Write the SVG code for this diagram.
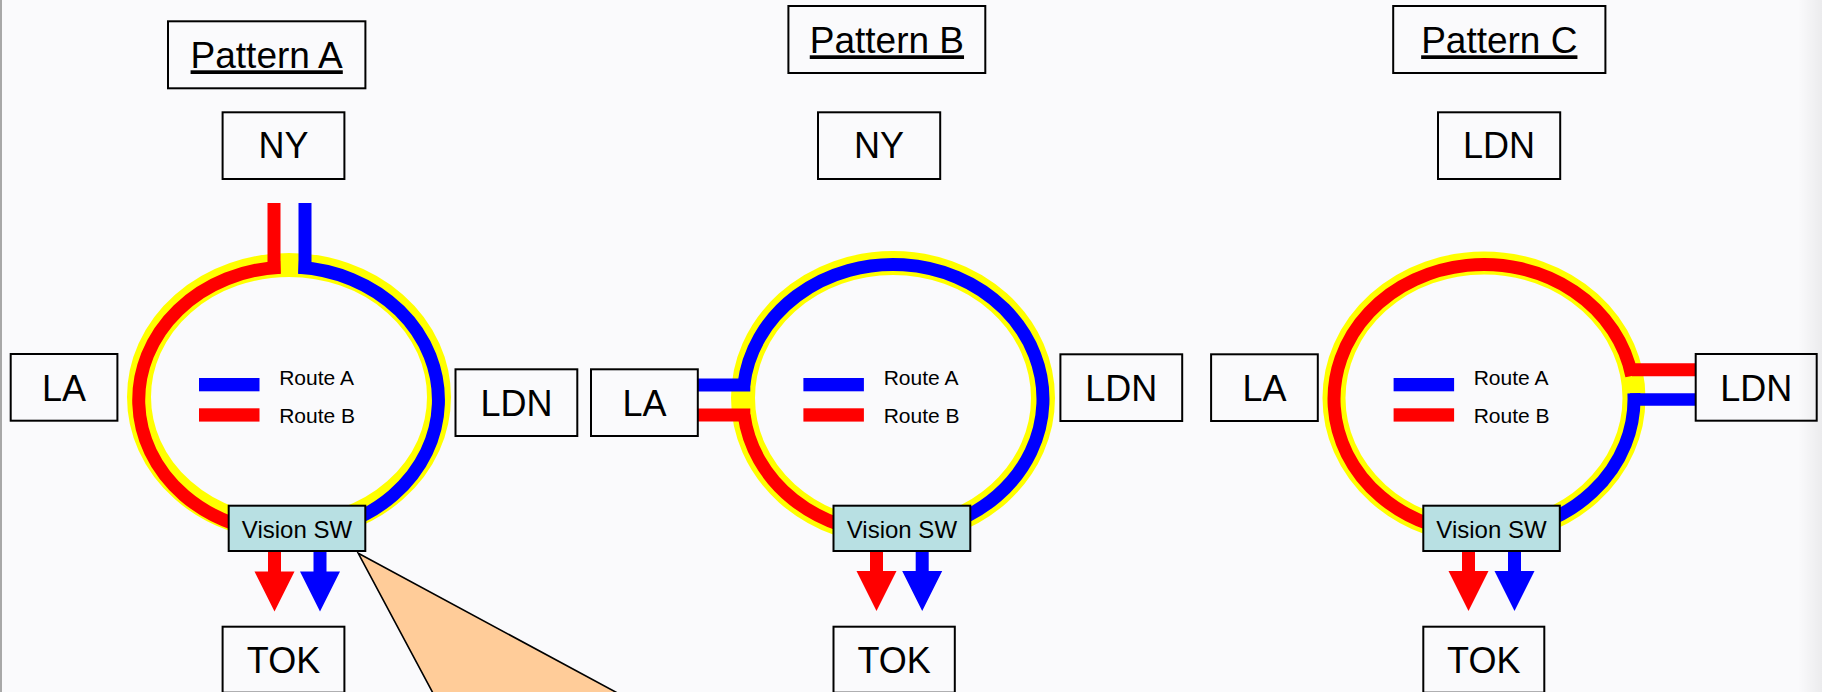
<svg xmlns="http://www.w3.org/2000/svg" width="1822" height="692" viewBox="0 0 1822 692">
<defs>
<linearGradient id="edge" x1="0" y1="0" x2="1" y2="0">
<stop offset="0" stop-color="#000" stop-opacity="0"/>
<stop offset="1" stop-color="#000" stop-opacity="0.06"/>
</linearGradient>
<style>
.box{fill:none;stroke:#000;stroke-width:2}
.t{font-family:"Liberation Sans",Arial,sans-serif;font-size:36px;text-anchor:middle;fill:#000}
.title{font-size:37px;text-decoration:underline}
.leg{font-size:21px;text-anchor:start}
.vsw{fill:#b8e0e3;stroke:#000;stroke-width:2}
.vt{font-size:24px}
.yel{fill:none;stroke:#ffff00;stroke-width:24}
.red{fill:none;stroke:#ff0000;stroke-width:13}
.blue{fill:none;stroke:#0000ff;stroke-width:13}
.rf{fill:#ff0000}
.bf{fill:#0000ff}
.call{fill:#ffcc99;stroke:#000;stroke-width:1.6}
</style>
</defs>
<rect width="1822" height="692" fill="#fafafc"/>
<rect x="1798" y="0" width="24" height="692" fill="url(#edge)"/>
<rect x="0" y="0" width="2" height="692" fill="#a8a8a8"/>

<g id="connectors">
<!-- Pattern A -->
<ellipse class="yel" cx="289" cy="397" rx="150" ry="132"/>
<path class="red" d="M 280.5 267.2 A 150 133 0 0 0 289 533"/>
<path class="blue" d="M 298.5 267.3 A 150 133 0 0 1 289 533"/>
<path class="red" d="M 274 203 V 273.8"/>
<path class="blue" d="M 305 203 V 273.8"/>
<polygon class="rf" points="268,550 281,550 281,571.5 294.5,571.5 274.5,611.5 254.5,571.5 268,571.5"/>
<polygon class="bf" points="313.5,550 326.5,550 326.5,571.5 340,571.5 320,611.5 300,571.5 313.5,571.5"/>
<!-- Pattern B -->
<ellipse class="yel" cx="893" cy="398" rx="150" ry="135"/>
<path class="blue" d="M 743.8 385 A 150 134.5 0 1 1 893 533.5"/>
<path class="red" d="M 744.1 415 A 150 134.5 0 0 0 893 533.5"/>
<path class="blue" d="M 698 385 H 750.3"/>
<path class="red" d="M 698 415 H 750.3"/>
<polygon class="rf" points="870,550 883,550 883,571 896.5,571 876.5,611 856.5,571 870,571"/>
<polygon class="bf" points="915.7,550 928.7,550 928.7,571 942.2,571 922.2,611 902.2,571 915.7,571"/>
<!-- Pattern C -->
<ellipse class="yel" cx="1484" cy="398" rx="150" ry="135" style="stroke-width:23"/>
<path class="red" d="M 1631.8 376 A 150 134.5 0 1 0 1484 533.5"/>
<path class="blue" d="M 1633.9 393.3 A 150 134.5 0 0 1 1484 533.5"/>
<path class="red" d="M 1632 369.7 H 1696"/>
<path class="blue" d="M 1630 399.5 H 1696" style="stroke-width:12.5"/>
<polygon class="rf" points="1462,550 1475,550 1475,571 1488.5,571 1468.5,611 1448.5,571 1462,571"/>
<polygon class="bf" points="1508,550 1521,550 1521,571 1534.5,571 1514.5,611 1494.5,571 1508,571"/>
</g>

<g id="callout">
<polygon class="call" points="358.3,553.3 442,710 649,710"/>
</g>

<g id="title-a"><rect class="box" x="168" y="21.3" width="197.4" height="67"/><text class="t title" x="266.7" y="68.3">Pattern A</text></g>
<g id="title-b"><rect class="box" x="788.4" y="6" width="196.9" height="67"/><text class="t title" x="886.9" y="53.3">Pattern B</text></g>
<g id="title-c"><rect class="box" x="1393.2" y="6" width="212.2" height="67"/><text class="t title" x="1499.3" y="53.3">Pattern C</text></g>

<g id="a-ny"><rect class="box" x="222.6" y="112.3" width="121.8" height="66.7"/><text class="t" x="283.5" y="158.3">NY</text></g>
<g id="a-la"><rect class="box" x="10.7" y="354" width="106.7" height="66.7"/><text class="t" x="64" y="400.7">LA</text></g>
<g id="a-ldn"><rect class="box" x="455.5" y="369.3" width="121.8" height="66.7"/><text class="t" x="516.4" y="416">LDN</text></g>
<g id="a-legend">
<rect class="bf" x="199" y="378" width="60.5" height="13.3"/><rect class="rf" x="199" y="408.3" width="60.5" height="13.3"/>
<text class="t leg" x="279.2" y="385">Route A</text><text class="t leg" x="279.2" y="423.3">Route B</text>
</g>
<g id="a-vsw"><rect class="vsw" x="228.7" y="505.7" width="136.6" height="45.3"/><text class="t vt" x="297" y="538.3">Vision SW</text></g>
<g id="a-tok"><rect class="box" x="222.6" y="626.7" width="121.8" height="66"/><text class="t" x="283.5" y="673.3">TOK</text></g>

<g id="b-ny"><rect class="box" x="818" y="112.3" width="122.2" height="66.7"/><text class="t" x="879.1" y="158.3">NY</text></g>
<g id="b-la"><rect class="box" x="591" y="369.3" width="106.8" height="66.7"/><text class="t" x="644.4" y="416">LA</text></g>
<g id="b-ldn"><rect class="box" x="1060.4" y="354.3" width="121.8" height="66.7"/><text class="t" x="1121.3" y="400.7">LDN</text></g>
<g id="b-legend">
<rect class="bf" x="803.4" y="378" width="60.5" height="13.3"/><rect class="rf" x="803.4" y="408.3" width="60.5" height="13.3"/>
<text class="t leg" x="883.7" y="385">Route A</text><text class="t leg" x="883.7" y="423.3">Route B</text>
</g>
<g id="b-vsw"><rect class="vsw" x="833.5" y="505.7" width="136.8" height="45.3"/><text class="t vt" x="901.9" y="538.3">Vision SW</text></g>
<g id="b-tok"><rect class="box" x="833.5" y="626.7" width="121.3" height="66"/><text class="t" x="894.2" y="673.3">TOK</text></g>

<g id="c-ldn-top"><rect class="box" x="1438" y="112.3" width="122.2" height="66.7"/><text class="t" x="1499.1" y="158.3">LDN</text></g>
<g id="c-la"><rect class="box" x="1211.1" y="354.3" width="106.7" height="66.7"/><text class="t" x="1264.5" y="400.7">LA</text></g>
<g id="c-ldn"><rect class="box" x="1695.7" y="354" width="121" height="66.7"/><text class="t" x="1756.2" y="400.7">LDN</text></g>
<g id="c-legend">
<rect class="bf" x="1393.6" y="378" width="60.5" height="13.3"/><rect class="rf" x="1393.6" y="408.3" width="60.5" height="13.3"/>
<text class="t leg" x="1473.7" y="385">Route A</text><text class="t leg" x="1473.7" y="423.3">Route B</text>
</g>
<g id="c-vsw"><rect class="vsw" x="1423.3" y="505.7" width="136.5" height="45.3"/><text class="t vt" x="1491.5" y="538.3">Vision SW</text></g>
<g id="c-tok"><rect class="box" x="1423.3" y="626.7" width="121" height="66"/><text class="t" x="1483.8" y="673.3">TOK</text></g>
</svg>
